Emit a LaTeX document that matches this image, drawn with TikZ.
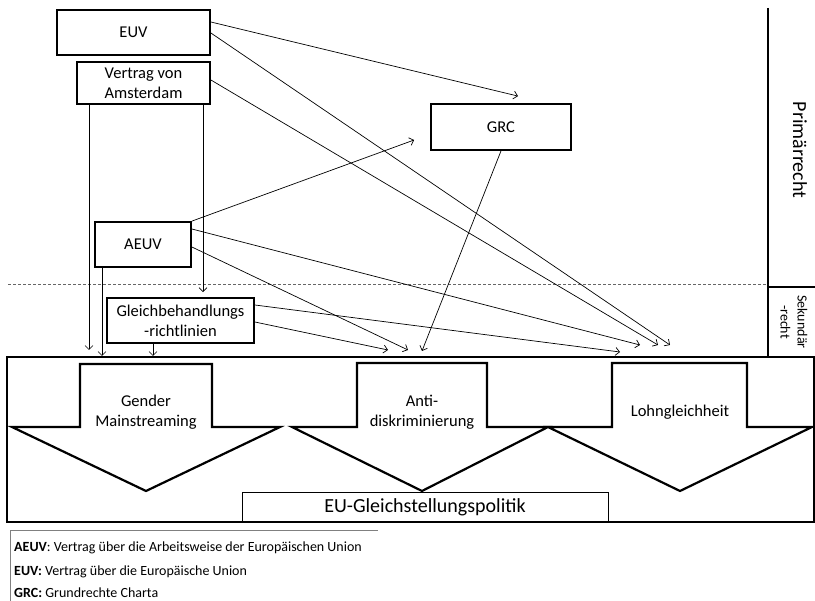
\documentclass[tikz,border=0pt]{standalone}
\usepackage{fontspec}
\setmainfont{Carlito}
\usetikzlibrary{arrows.meta}

\begin{document}
\begin{tikzpicture}[x=1pt,y=-1pt,
  box/.style={draw,line width=1.8pt,inner sep=0pt,align=center,font=\fontsize{16.5}{20}\selectfont},
  conn/.style={line width=0.7pt,-{Straight Barb[length=4pt,width=8pt]}},
  pfeil/.style={line width=2.2pt,line join=miter},
  lbl/.style={align=center,font=\fontsize{16.5}{19.5}\selectfont},
  legende/.style={anchor=west,inner sep=0pt,font=\fontsize{14}{16}\selectfont}]

\useasboundingbox (0,0) rectangle (815,601);

% Rahmen
\draw[line width=1.4pt] (7,357) rectangle (814,522);
\draw[line width=2.4pt] (7,357) -- (815,357);
\draw[line width=1.2pt] (768,8) -- (768,357);
\draw[line width=1.2pt] (768,287) -- (815,287);
\draw[gray!80!black,dash pattern=on 3pt off 2pt,line width=0.8pt] (8,284) -- (768,284);
\node[rotate=-90,font=\fontsize{20}{24}\selectfont] (prim) at (800,150) {Primärrecht};
\node[rotate=-90,align=center,font=\fontsize{14}{17}\selectfont] (sek) at (794,322) {Sekundär\\-recht};

% Vertraege
\node[box,minimum width=153pt,minimum height=45pt] (euv) at (133.5,32.5) {EUV};
\node[box,minimum width=133pt,minimum height=42pt] (vva) at (143.5,83) {Vertrag von\\Amsterdam};
\node[box,minimum width=140pt,minimum height=46pt] (grc) at (501,127) {GRC};
\node[box,minimum width=96pt,minimum height=45pt] (aeuv) at (143,244.5) {AEUV};
\node[box,minimum width=147pt,minimum height=45pt] (gbr) at (180.5,320.5) {Gleichbehandlungs\\-richtlinien};

% Ziele ueber der Linie
\coordinate (gm-a) at (89,350);
\coordinate (gm-b) at (102,356);
\coordinate (gm-c) at (153,356);
\coordinate (ad-a) at (388,350);
\coordinate (ad-b) at (408,350);
\coordinate (ad-c) at (422,351);
\coordinate (lg-a) at (620,352);
\coordinate (lg-b) at (640,345);
\coordinate (lg-c) at (658,345);
\coordinate (lg-d) at (670,345);

% Pfeile
\draw[conn] ([yshift=10.5pt]euv.east) -- ([xshift=17pt,yshift=7pt]grc.north);
\draw[conn] ([yshift=-0.5pt]euv.east) -- (lg-d);
\draw[conn] ([yshift=3pt]vva.east) -- (lg-c);
\draw[conn] ([xshift=-54.5pt]vva.south) -- (gm-a);
\draw[conn] ([xshift=59.5pt]vva.south) -- ([xshift=22.5pt,yshift=5pt]gbr.north);
\draw[conn] (aeuv.north east) -- ([xshift=-16pt,yshift=-13pt]grc.west);
\draw[conn] ([yshift=15.5pt]aeuv.east) -- (lg-b);
\draw[conn] ([yshift=-2.5pt]aeuv.east) -- (ad-b);
\draw[conn] ([xshift=-41pt]aeuv.south) -- (gm-b);
\draw[conn] ([yshift=15.5pt]gbr.east) -- (lg-a);
\draw[conn] ([yshift=-1.5pt]gbr.east) -- (ad-a);
\draw[conn] ([xshift=-27.5pt]gbr.south) -- (gm-c);
\draw[conn] (grc.south) -- (ad-c);

% Handlungsfelder
\draw[pfeil] (80,364) -- (212,364) -- (212,427) -- (280,427) -- (146,491) -- (12,427) -- (80,427) -- cycle;
\draw[pfeil] (357,363) -- (487,363) -- (487,427) -- (548,427) -- (422,491) -- (292,427) -- (357,427) -- cycle;
\draw[pfeil] (612,363) -- (747,363) -- (747,427) -- (812,427) -- (680,491) -- (548,427) -- (612,427) -- cycle;
\node[lbl] (gm) at (146,412) {Gender\\Mainstreaming};
\node[lbl] (ad) at (422,412) {Anti-\\diskriminierung};
\node[lbl] (lg) at (680,412) {Lohngleichheit};

\draw[line width=0.8pt] (242,522) |- (608,492) -- (608,522);
\node[font=\fontsize{20}{24}\selectfont] (eugp) at (425,507) {EU-Gleichstellungspolitik};

% Legende
\draw[gray,line width=0.8pt] (10,601) -- (10,530) -- (378,530);
\node[legende] (l1) at (14,548) {\textbf{AEUV}: Vertrag über die Arbeitsweise der Europäischen Union};
\node[legende] (l2) at (14,572) {\textbf{EUV:} Vertrag über die Europäische Union};
\node[legende] (l3) at (14,593) {\textbf{GRC:} Grundrechte Charta};
\end{tikzpicture}
\end{document}
